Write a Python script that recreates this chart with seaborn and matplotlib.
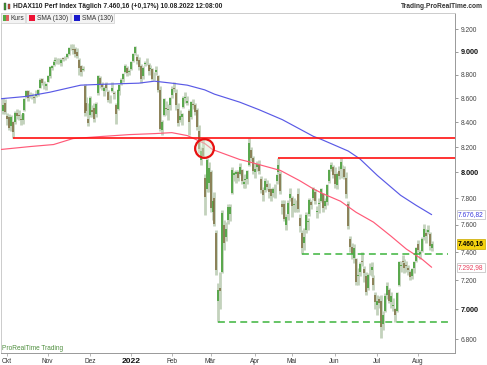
import matplotlib
matplotlib.use("Agg")
import numpy as np
import pandas as pd
import matplotlib.pyplot as plt
import seaborn as sns
from matplotlib.patches import Rectangle
from matplotlib.ticker import NullLocator

W, H = 487, 365

# HDAX daily candles, 29.09.2021 .. 10.08.2022 (one entry per trading day)
opens = [
    8490, 8560, 8450, 8440, 8370, 8400, 8400, 8480, 8460, 8430, 8420, 8500, 8610, 8660, 8620, 8620, 8610, 8620, 8630, 8690, 8760, 8720, 8700,
    8740, 8790, 8860, 8880, 8920, 8920, 8920, 8900, 8940, 8945, 8950, 8980, 9030, 9025, 9020, 9000, 8930, 8870, 8840, 8700, 8560, 8430,
    8460, 8500, 8520, 8470, 8640, 8770, 8720, 8660, 8720, 8650, 8600, 8660, 8640, 8540, 8510, 8660, 8720, 8760, 8820, 8860, 8820,
    8850, 8920, 8985, 8950, 8930, 8870, 8790, 8890, 8910, 8880, 8850, 8850, 8790, 8820, 8790, 8670, 8340, 8460, 8520, 8500, 8540,
    8630, 8690, 8640, 8510, 8420, 8440, 8530, 8600, 8560, 8490, 8440, 8550, 8540, 8500, 8330, 8100, 8190, 7960, 7870, 7920,
    8000, 7700, 7800, 7540, 7060, 7150, 7260, 7600, 7510, 7640, 7680, 7840, 7980, 7990, 8000, 7990, 8020, 7910, 7940, 7950, 8060, 8180, 8110,
    8000, 8040, 8060, 7950, 7860, 7860, 7910, 7870, 7870, 7840, 7860, 7930, 8000, 7990, 7760, 7760, 7600, 7680, 7800,
    7800, 7750, 7760, 7830, 7650, 7540, 7470, 7560, 7620, 7680, 7770, 7800, 7850, 7700, 7760, 7780, 7830, 7740, 7770, 7930, 8030, 8040,
    7990, 7900, 8010, 8030, 8030, 8030, 7960, 7760, 7500, 7440, 7360, 7350, 7230, 7260, 7340, 7280, 7230, 7150, 7270, 7270, 7220, 7100,
    7030, 7070, 7060, 6900, 6990, 7100, 7130, 7050, 7020, 7000, 6990, 7170, 7300, 7340, 7320, 7310, 7290, 7260, 7230, 7290, 7340,
    7460, 7390, 7410, 7510, 7540, 7550, 7530, 7430,
]
highs = [
    8600, 8590, 8480, 8470, 8460, 8410, 8490, 8510, 8500, 8470, 8480, 8600, 8670, 8665, 8650, 8645, 8625, 8665, 8680, 8770, 8770, 8745, 8730,
    8800, 8875, 8885, 8925, 8950, 8940, 8945, 8940, 8955, 8965, 8985, 9040, 9065, 9070, 9040, 9030, 8940, 8880, 8875, 8720, 8610, 8560,
    8620, 8540, 8560, 8570, 8800, 8790, 8740, 8700, 8740, 8670, 8630, 8740, 8660, 8560, 8680, 8720, 8770, 8810, 8890, 8870, 8850,
    8920, 8990, 9050, 8980, 8950, 8890, 8870, 8920, 8940, 8900, 8880, 8860, 8820, 8870, 8800, 8700, 8420, 8600, 8580, 8550, 8610,
    8700, 8740, 8680, 8560, 8500, 8480, 8620, 8650, 8620, 8510, 8580, 8590, 8560, 8520, 8380, 8200, 8270, 7990, 8110, 8080,
    8020, 7820, 7850, 7560, 7180, 7260, 7710, 7640, 7620, 7760, 7760, 8040, 8010, 8020, 8020, 8070, 8030, 7980, 7990, 8020, 8273, 8200, 8130,
    8070, 8090, 8100, 7970, 7890, 7960, 7940, 7920, 7880, 7890, 7910, 7990, 8113, 8010, 7790, 7790, 7680, 7790, 7880,
    7820, 7800, 7790, 7880, 7680, 7560, 7580, 7700, 7650, 7800, 7790, 7890, 7870, 7740, 7800, 7880, 7840, 7800, 7910, 8030, 8080, 8060,
    8040, 8000, 8050, 8113, 8060, 8050, 8000, 7780, 7520, 7470, 7460, 7360, 7290, 7330, 7400, 7300, 7260, 7250, 7320, 7330, 7240, 7120,
    7100, 7090, 7100, 6990, 7110, 7190, 7150, 7120, 7080, 7010, 7120, 7340, 7340, 7380, 7350, 7340, 7310, 7270, 7290, 7340, 7440,
    7490, 7420, 7510, 7610, 7570, 7600, 7545, 7480,
]
lows = [
    8470, 8470, 8380, 8340, 8330, 8273, 8390, 8430, 8420, 8380, 8390, 8495, 8605, 8580, 8600, 8590, 8560, 8610, 8620, 8685, 8710, 8680, 8670,
    8735, 8770, 8840, 8870, 8900, 8890, 8890, 8870, 8920, 8925, 8940, 8970, 9010, 8980, 8950, 8940, 8800, 8790, 8830, 8450, 8470, 8370,
    8440, 8440, 8400, 8440, 8630, 8690, 8670, 8620, 8660, 8570, 8560, 8650, 8590, 8390, 8500, 8630, 8710, 8740, 8815, 8790, 8800,
    8840, 8910, 8970, 8890, 8840, 8730, 8760, 8870, 8880, 8800, 8840, 8750, 8750, 8800, 8650, 8330, 8300, 8450, 8460, 8420, 8500,
    8600, 8650, 8500, 8370, 8400, 8380, 8520, 8560, 8540, 8300, 8430, 8510, 8460, 8340, 8150, 8060, 8120, 7675, 7850, 7850,
    7700, 7640, 7590, 7240, 6913, 7000, 7250, 7420, 7480, 7610, 7630, 7830, 7930, 7920, 7930, 7980, 7910, 7880, 7880, 7910, 8050, 8090, 7990,
    7960, 8010, 7990, 7840, 7780, 7850, 7860, 7800, 7780, 7810, 7800, 7910, 7990, 7830, 7680, 7630, 7560, 7640, 7780,
    7660, 7700, 7700, 7700, 7550, 7388, 7420, 7540, 7560, 7670, 7720, 7790, 7760, 7650, 7690, 7770, 7700, 7720, 7750, 7920, 8010, 7960,
    7880, 7870, 7950, 8020, 7960, 7950, 7800, 7570, 7400, 7350, 7320, 7170, 7170, 7230, 7300, 7190, 7100, 7130, 7240, 7230, 7130, 7000,
    6960, 7010, 6810, 6860, 6980, 7070, 7040, 7010, 6990, 6913, 6980, 7160, 7260, 7300, 7250, 7260, 7240, 7200, 7210, 7250, 7330,
    7400, 7350, 7400, 7490, 7470, 7530, 7420, 7410,
]
closes = [
    8540, 8482, 8424, 8357, 8445, 8322, 8476, 8451, 8448, 8418, 8475, 8594, 8663, 8600, 8624, 8627, 8600, 8639, 8670, 8758, 8729, 8724, 8720,
    8786, 8867, 8870, 8910, 8923, 8919, 8915, 8930, 8939, 8945, 8975, 9031, 9032, 9016, 8982, 8957, 8858, 8825, 8847, 8480, 8493, 8393,
    8600, 8483, 8431, 8552, 8789, 8719, 8692, 8683, 8683, 8589, 8602, 8690, 8633, 8470, 8667, 8713, 8757, 8802, 8873, 8811, 8829,
    8905, 8977, 9043, 8922, 8864, 8764, 8861, 8898, 8910, 8828, 8856, 8766, 8787, 8844, 8672, 8343, 8405, 8593, 8514, 8514, 8599,
    8681, 8678, 8542, 8393, 8452, 8472, 8605, 8609, 8573, 8400, 8566, 8543, 8485, 8360, 8188, 8167, 8132, 7810, 8096, 8037,
    7724, 7777, 7609, 7274, 7130, 7128, 7692, 7467, 7570, 7738, 7731, 8022, 7993, 8006, 7958, 8040, 7934, 7929, 7947, 8009, 8233, 8114, 8008,
    8026, 8066, 8014, 7863, 7822, 7936, 7886, 7847, 7821, 7869, 7862, 7980, 8057, 7857, 7736, 7643, 7663, 7767, 7833,
    7740, 7756, 7757, 7719, 7592, 7429, 7515, 7677, 7628, 7788, 7753, 7876, 7777, 7707, 7763, 7870, 7728, 7777, 7901, 8015, 8055, 7980,
    7909, 7988, 7975, 8082, 8028, 7966, 7831, 7590, 7440, 7390, 7430, 7190, 7240, 7316, 7331, 7249, 7122, 7235, 7272, 7297, 7171, 7050,
    7060, 7040, 6880, 6960, 7090, 7160, 7060, 7090, 7030, 6960, 7110, 7330, 7310, 7330, 7290, 7300, 7270, 7225, 7280, 7330, 7430,
    7420, 7400, 7500, 7570, 7520, 7560, 7447, 7460,
]

# first trading day of each month
month_pos = [2, 23, 45, 66, 87, 107, 130, 149, 171, 193, 214]
month_labels = ["Okt", "Nov", "Dez", "2022", "Feb", "Mär", "Apr", "Mai", "Jun", "Jul", "Aug"]

# moving averages
sma_blue_day = [-1.5, 12, 24, 40, 52, 70, 78, 87, 95, 104, 109, 122, 132, 144, 160, 164, 178, 184, 193, 205, 213, 221]
sma_blue_val = [8595, 8615, 8650, 8710, 8718, 8727, 8744, 8727, 8710, 8670, 8634, 8567, 8504, 8422, 8286, 8262, 8168, 8106, 7976, 7823, 7747, 7677]
sma_red_day = [-1.5, 14, 26, 36, 50, 65, 78, 87, 95, 104, 108, 122, 126, 143, 153, 160, 165, 174, 182, 191, 200, 208, 216, 221]
sma_red_val = [8180, 8204, 8220, 8268, 8284, 8300, 8308, 8316, 8292, 8228, 8180, 8101, 8086, 8015, 7935, 7872, 7835, 7778, 7695, 7621, 7518, 7423, 7351, 7293]

# drawn lines
resist_levels = [8273, 8113]
resist_start = [5, 142]
support_levels = [7388, 6913]
support_start = [154, 111]
support_end = 229.4
circle_day, circle_price = 103.6, 8196

price_ticks = [6800, 7000, 7200, 7400, 7600, 7800, 8000, 8200, 8400, 8600, 8800, 9000, 9200]
price_labels = ["6.800", "7.000", "7.200", "7.400", "7.600", "7.800", "8.000", "8.200", "8.400", "8.600", "8.800", "9.000", "9.200"]

sns.set_theme(style="white")
plt.rcParams['font.family'] = ['Liberation Sans', 'DejaVu Sans']

candles = pd.DataFrame({"open": opens, "high": highs, "low": lows, "close": closes})
candles["day"] = np.arange(len(candles))
up = candles["close"] >= candles["open"]

x_lo, x_hi = -1.09, 233.05

fig = plt.figure(figsize=(W / 100, H / 100), dpi=100)
ax = fig.add_axes([1 / W, 1 - 353 / H, 454 / W, 340 / H])
ax.set_yscale("log")

ax.vlines(candles["day"], candles["low"], candles["high"], color="#c3d2bc", lw=2.0, zorder=2)
ax.vlines(candles.loc[up, "day"], candles.loc[up, "open"], candles.loc[up, "close"],
          color="#3a9a2c", lw=1.1, zorder=3)
ax.vlines(candles.loc[~up, "day"], candles.loc[~up, "close"], candles.loc[~up, "open"],
          color="#7b6a3b", lw=1.1, zorder=3)

sns.lineplot(x=sma_blue_day, y=sma_blue_val, ax=ax, color="#5a5ae6", linewidth=0.85,
             sort=False, estimator=None, zorder=4)
sns.lineplot(x=sma_red_day, y=sma_red_val, ax=ax, color="#ff5a78", linewidth=0.85,
             sort=False, estimator=None, zorder=4)

ax.hlines(resist_levels, resist_start, x_hi, color="#ff1010", lw=1.2, zorder=5)
ax.hlines(support_levels, support_start, support_end, color="#3cb43c", lw=1.1,
          linestyles=(0, (4.5, 2.8)), zorder=5)
ax.plot([circle_day], [circle_price], marker="o", ms=13.5, mfc=(0.85, 0.93, 0.82, 0.45),
        mec="#e81010", mew=1.6, zorder=6)

ax.set_xlim(x_lo, x_hi)
ax.set_ylim(6708, 9345)

ax.yaxis.tick_right()
ax.set_yticks(price_ticks)
ax.set_yticklabels(price_labels)
ax.yaxis.set_minor_locator(NullLocator())
ax.set_xticks(month_pos)
ax.set_xticklabels(month_labels)
ax.tick_params(axis="y", which="major", right=True, left=False, length=2.5, width=0.6,
               color="#888888", labelsize=4.8, labelcolor="#444444", pad=1.5)
ax.tick_params(axis="x", length=2, width=0.6, color="#aaaaaa", labelsize=4.7,
               labelcolor="#333333", pad=1.5, bottom=True)
for lbl in ax.get_yticklabels():
    if lbl.get_text().endswith(".000"):
        lbl.set_fontweight("bold")
        lbl.set_color("#111111")
        lbl.set_fontsize(5.2)
for lbl in ax.get_xticklabels():
    if lbl.get_text() == "2022":
        lbl.set_fontweight("bold")
        lbl.set_fontsize(6)
        lbl.set_color("#111111")

for side, col in [("left", "#cccccc"), ("top", "#cccccc"), ("right", "#999999"), ("bottom", "#999999")]:
    ax.spines[side].set_color(col)
    ax.spines[side].set_linewidth(0.7)

# value boxes on the price axis
tags = [
    ("7.676,82", sma_blue_val[-1], "#3b3bdc", "white", "#bbbbbb", "normal"),
    ("7.460,16", closes[-1], "black", "#f5d30f", "#c9a800", "bold"),
    ("7.292,98", sma_red_val[-1], "#e8425f", "white", "#bbbbbb", "normal"),
]
for txt, val, tc, fc, ec, fw in tags:
    ax.annotate(txt, xy=(1.0, val), xycoords=("axes fraction", "data"), xytext=(2.2, 0),
                textcoords="offset points", va="center", ha="left", fontsize=4.8,
                color=tc, fontweight=fw,
                bbox=dict(boxstyle="square,pad=0.18", fc=fc, ec=ec, lw=0.5),
                annotation_clip=False, zorder=10)


def fx(px):
    return px / W


def fy(py):
    return 1 - py / H


# header
fig.text(fx(13), fy(6.5), "HDAX110 Perf Index Täglich 7.460,16 (+0,17%) 10.08.2022 12:08:00",
         fontsize=4.75, fontweight="bold", color="#222222", va="center", ha="left")
fig.text(fx(483), fy(6.5), "Trading.ProRealTime.com", fontsize=4.8, fontweight="bold",
         color="#333333", va="center", ha="right")
fig.patches.append(Rectangle((fx(4), fy(10)), 2 / W, 7 / H, transform=fig.transFigure,
                             fc="#3a9a2c", ec="#444444", lw=0.3))
fig.patches.append(Rectangle((fx(7.5), fy(9)), 2 / W, 5 / H, transform=fig.transFigure,
                             fc="#cc4433", ec="#444444", lw=0.3))

# legend row
legend_items = [
    (1, 25, None, "Kurs", 10.5),
    (26, 70, "#ee1133", "SMA (130)", 37),
    (71, 114, "#1a1acc", "SMA (130)", 82),
]
for x0, x1, col, txt, tx in legend_items:
    fig.patches.append(Rectangle((fx(x0), fy(23)), (x1 - x0) / W, 10 / H,
                                 transform=fig.transFigure, fc="#f3f3f3", ec="#cfcfcf", lw=0.5))
    if col is None:
        fig.patches.append(Rectangle((fx(3), fy(21)), 3 / W, 6 / H, transform=fig.transFigure,
                                     fc="#55aa44", ec="none"))
        fig.patches.append(Rectangle((fx(6), fy(21)), 3 / W, 6 / H, transform=fig.transFigure,
                                     fc="#e06060", ec="none"))
    else:
        fig.patches.append(Rectangle((fx(x0 + 3), fy(21)), 6 / W, 6 / H, transform=fig.transFigure,
                                     fc=col, ec="none"))
    fig.text(fx(tx), fy(18.2), txt, fontsize=4.8, color="#333333", va="center", ha="left")

fig.text(fx(2.5), fy(349), "ProRealTime Trading", fontsize=4.7, color="#4f8f3f",
         va="center", ha="left")

fig.savefig("out.png", dpi=100)
